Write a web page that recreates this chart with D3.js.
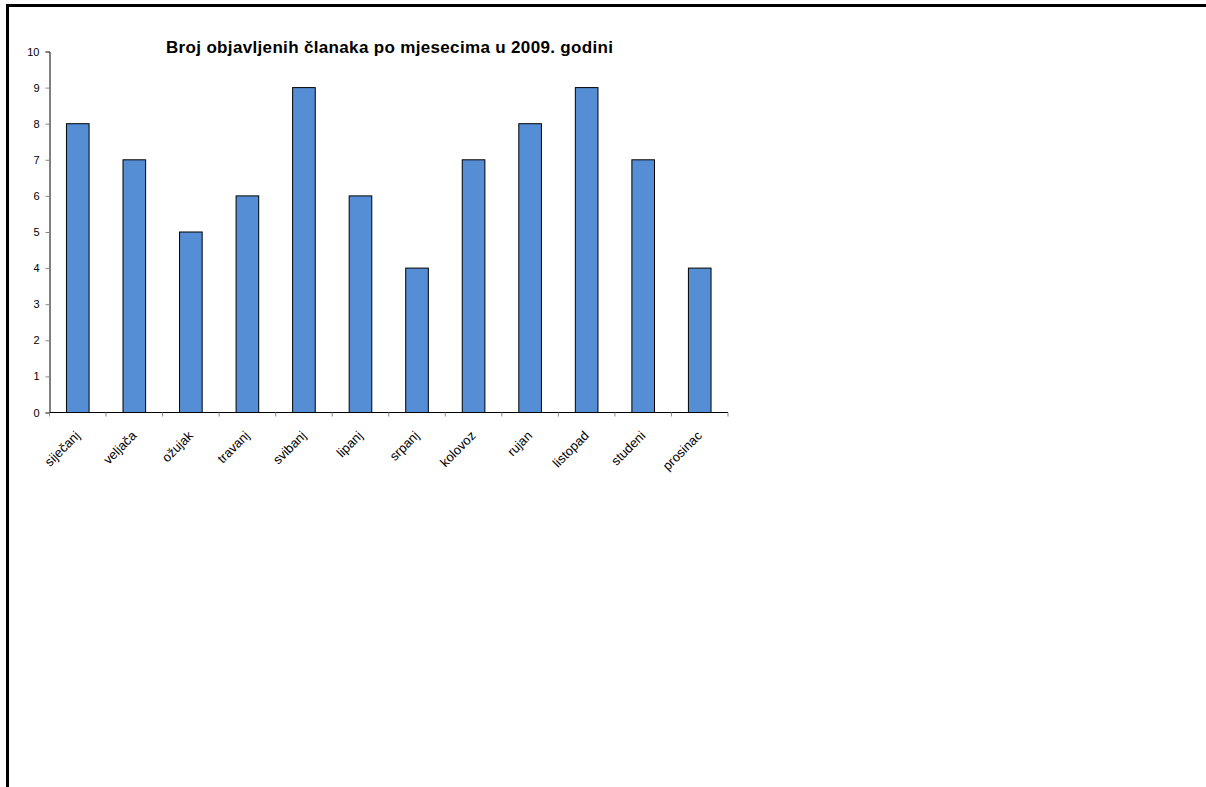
<!DOCTYPE html>
<html>
<head>
<meta charset="utf-8">
<script src="https://cdn.jsdelivr.net/npm/d3@7"></script>
<style>
  html, body { margin: 0; padding: 0; background: #fff; }
  svg { display: block; font-family: "Liberation Sans", Arial, sans-serif; }
</style>
</head>
<body>
<svg id="chart" width="1206" height="787"></svg>
<script>
const title = "Broj objavljenih članaka po mjesecima u 2009. godini";
const months = ["siječanj","veljača","ožujak","travanj","svibanj","lipanj","srpanj","kolovoz","rujan","listopad","studeni","prosinac"];
const counts = [8,7,5,6,9,6,4,7,8,9,7,4];
const yTicks = [0,1,2,3,4,5,6,7,8,9,10];

const svg = d3.select("#chart");

// outer frame (top and left edges)
svg.append("line").attr("x1", 6).attr("x2", 1206).attr("y1", 5.5).attr("y2", 5.5)
  .attr("stroke", "#000").attr("stroke-width", 3);
svg.append("line").attr("x1", 7.5).attr("x2", 7.5).attr("y1", 4).attr("y2", 787)
  .attr("stroke", "#000").attr("stroke-width", 3);

const plotLeft = 49.5, plotRight = 728, plotTop = 51.5, plotBottom = 412.5;

const x = d3.scaleBand().domain(months).range([plotLeft, plotRight]).paddingInner(0).paddingOuter(0);
const y = d3.scaleLinear().domain([0, 10]).range([plotBottom, plotTop]);

const barW = x.bandwidth() * 0.4;

svg.append("g").selectAll("rect").data(months).join("rect")
  .attr("x", (d) => x(d) + (x.bandwidth() - barW) / 2)
  .attr("y", (d, i) => y(counts[i]))
  .attr("width", barW)
  .attr("height", (d, i) => y(0) - y(counts[i]))
  .attr("fill", "#558ED5")
  .attr("stroke", "#000")
  .attr("stroke-width", 1);

// y axis
const yAxis = svg.append("g").attr("transform", `translate(${plotLeft},0)`)
  .call(d3.axisLeft(y).tickValues(yTicks).tickSize(4).tickPadding(6).tickFormat(d3.format("d")));
yAxis.select(".domain").attr("stroke", "#000");
yAxis.selectAll(".tick line").attr("stroke", "#888");
yAxis.selectAll("text").attr("font-size", 11).attr("fill", "#000")
  .attr("font-family", "'Liberation Sans', Arial, sans-serif");

// x axis: ticks between categories
const xg = svg.append("g").attr("transform", `translate(0,${plotBottom})`);
xg.append("line").attr("x1", plotLeft).attr("x2", plotRight).attr("y1", 0).attr("y2", 0).attr("stroke", "#000");
const bounds = months.map((d) => x(d)).concat([plotRight]);
xg.selectAll("line.tk").data(bounds).join("line").attr("class", "tk")
  .attr("x1", (d) => d).attr("x2", (d) => d).attr("y1", 0).attr("y2", 4)
  .attr("stroke", "#888");
xg.selectAll("text").data(months).join("text")
  .attr("transform", (d) => `translate(${x(d) + x.bandwidth() / 2 + 3},${24}) rotate(-45)`)
  .attr("text-anchor", "end")
  .attr("font-size", 13)
  .attr("fill", "#000")
  .text((d) => d);

// title
svg.append("text")
  .attr("x", 389.5).attr("y", 52.5)
  .attr("text-anchor", "middle")
  .attr("font-size", 17)
  .attr("font-weight", "bold")
  .attr("fill", "#000")
  .attr("textLength", 447)
  .attr("lengthAdjust", "spacing")
  .text(title);
</script>
</body>
</html>
